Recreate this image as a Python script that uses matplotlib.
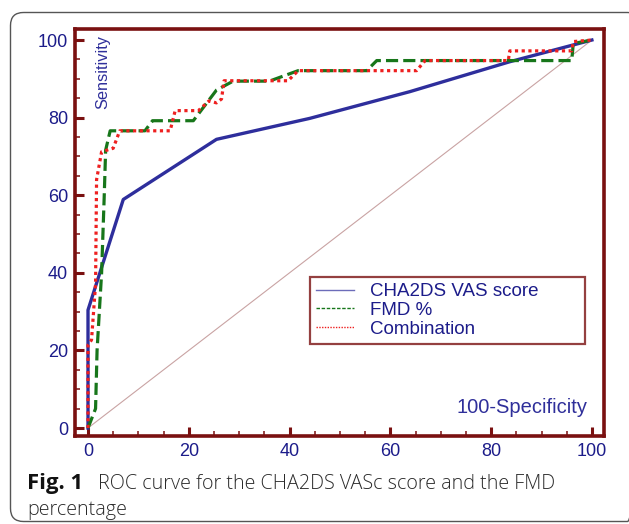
import matplotlib
matplotlib.use("Agg")
import matplotlib.pyplot as plt
from matplotlib.patches import FancyBboxPatch
from matplotlib.lines import Line2D
from matplotlib.ticker import MultipleLocator

# ---- data ----
cha_x = [0, 0, 7.0, 25.5, 44.0, 63.9, 83.7, 100]
cha_y = [0, 30.4, 58.9, 74.4, 79.8, 86.7, 94.4, 100]

fmd_x = [0, 1.5, 1.8, 2.7, 3.2, 3.5, 4.4, 11.3, 12.8, 20.9, 25.5, 28.8, 36.0, 41.7,
         55.3, 57.3, 96.0, 96.3, 100]
fmd_y = [0, 5.0, 20.0, 40.0, 59.0, 71.6, 76.6, 76.6, 79.2, 79.2, 87.1, 89.4, 89.4, 92.1,
         92.1, 94.7, 94.7, 99.1, 100]

comb_x = [0, 0, 0.7, 1.5, 1.7, 2.7, 5.0, 6.3, 16.3, 17.3, 21.9, 24.0, 25.5, 26.5, 27.0,
          39.7, 41.7, 65.2, 66.9, 83.4, 83.7, 96.0, 96.3, 100]
comb_y = [0, 21.4, 22.7, 37.0, 64.0, 71.2, 72.1, 76.6, 76.6, 81.8, 81.8, 84.3, 83.8, 84.8, 89.5,
          89.5, 92.1, 92.1, 94.7, 94.7, 97.2, 97.2, 99.6, 100]

ref_x = [0, 100]
ref_y = [0, 100]

series_labels = ["CHA2DS VAS score", "FMD %", "Combination"]
ticks = [0, 20, 40, 60, 80, 100]

# ---- styling ----
W, H = 629, 524
MAROON = "#7a1010"
TICKBLUE = "#1c1c8a"
BLUE = "#2e2e9c"
GREEN = "#17761a"
RED = "#ee2020"
FONT = "Liberation Sans"

fig = plt.figure(figsize=(W / 100, H / 100), dpi=100)

# background / frame axes in pixel coordinates
bg = fig.add_axes([0, 0, 1, 1])
bg.set_xlim(0, W)
bg.set_ylim(H, 0)
bg.axis("off")
bg.add_patch(FancyBboxPatch((10.5, 12.5), 630, 509,
                            boxstyle="round,pad=0,rounding_size=13",
                            fc="none", ec="#555555", lw=1.0))

# caption
cap_font = "Open Sans"
bg.text(27, 489, "Fig. 1", fontsize=15.8, fontweight="bold", family=cap_font,
        color="#111111", va="baseline", ha="left")
bg.text(98, 489, "ROC curve for the CHA2DS VASc score and the FMD", fontsize=14.2,
        family=cap_font, color="#2a2a2a", va="baseline", ha="left", fontweight="light")
bg.text(27, 515, "percentage", fontsize=14.2, family=cap_font, color="#2a2a2a",
        va="baseline", ha="left", fontweight="light")

# main axes
ax = fig.add_axes([75 / W, 1 - 436 / H, (604 - 75) / W, (436 - 29.3) / H])
ax.set_zorder(2)
ax.set_xlim(-2.58, 102.4)
ax.set_ylim(-2.06, 102.76)

ax.plot(ref_x, ref_y, color="#c9a3a3", lw=0.8, zorder=1)
ax.plot(cha_x, cha_y, color=BLUE, lw=2.4, solid_joinstyle="round", zorder=3)
ax.plot(fmd_x, fmd_y, color=GREEN, lw=2.3, linestyle=(0, (3.8, 1.6)), zorder=4)
ax.plot(comb_x, comb_y, color=RED, lw=2.3, linestyle=(0, (1.0, 1.1)), zorder=5)

for s in ax.spines.values():
    s.set_color(MAROON)
    s.set_linewidth(2.6)

ax.set_xticks(ticks)
ax.set_yticks(ticks)
ax.xaxis.set_minor_locator(MultipleLocator(5))
ax.yaxis.set_minor_locator(MultipleLocator(5))
ax.tick_params(which="major", direction="in", length=6.5, width=2.2, color=MAROON,
               labelcolor=TICKBLUE, labelsize=13, pad=5)
ax.tick_params(which="minor", direction="in", length=3.5, width=1.1, color=MAROON)
ax.tick_params(top=False, right=False, which="both")
for lab in ax.get_xticklabels() + ax.get_yticklabels():
    lab.set_family(FONT)

ax.text(0.053, 0.985, "Sensitivity", transform=ax.transAxes, rotation=90,
        ha="center", va="top", fontsize=11.8, family=FONT, color="#2f2f9a")
ax.text(0.968, 0.07, "100-Specificity", transform=ax.transAxes, ha="right",
        va="center", fontsize=14.5, family=FONT, color="#2f2f9a")

handles = [Line2D([], [], color=BLUE, lw=1.0, alpha=0.7),
           Line2D([], [], color=GREEN, lw=1.0, linestyle=(0, (2.5, 1.2))),
           Line2D([], [], color=RED, lw=1.0, linestyle=(0, (1, 1)))]
leg = ax.legend(handles, series_labels, loc="upper left",
                bbox_to_anchor=(0.444, 0.392, 0.52, 0.0), mode="expand",
                prop={"family": FONT, "size": 13.5}, labelcolor=TICKBLUE,
                frameon=True, fancybox=False, edgecolor=MAROON, borderpad=0.35,
                labelspacing=0.08, handlelength=2.0, handletextpad=0.85,
                borderaxespad=0)
leg.get_frame().set_linewidth(1.6)

fig.savefig("out.png", dpi=100, facecolor="white")
